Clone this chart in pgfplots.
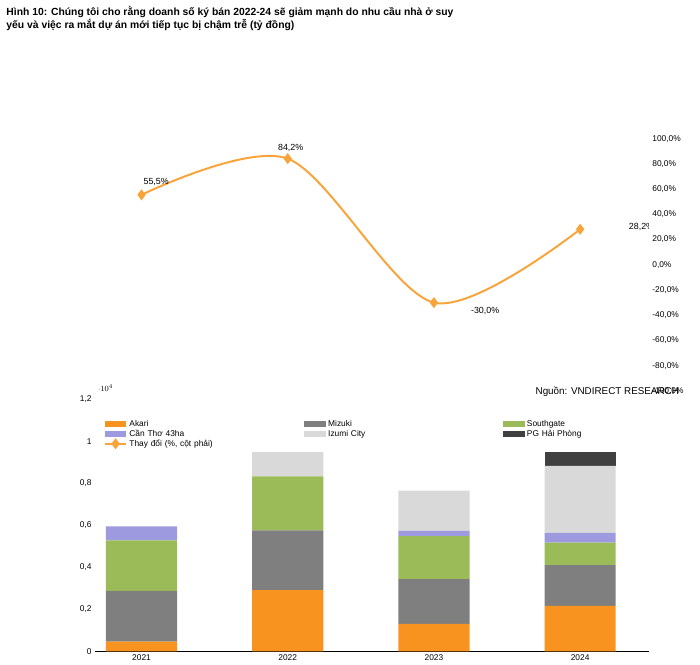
\documentclass[border=0pt]{standalone}
\usepackage{pgfplots}
\pgfplotsset{compat=1.18}
\usepackage{fontspec}
\setmainfont{Liberation Sans}
\definecolor{akari}{HTML}{F7931E}
\definecolor{mizuki}{HTML}{7F7F7F}
\definecolor{south}{HTML}{9BBB59}
\definecolor{cantho}{HTML}{9E9AE0}
\definecolor{izumi}{HTML}{D9D9D9}
\definecolor{pg}{HTML}{404040}
\definecolor{line}{HTML}{F9A43A}
\begin{document}
\begin{tikzpicture}[x=1bp,y=1bp]
\path (0,0) rectangle (700,-411);
\node[anchor=north west,font=\fontsize{10.5}{13}\selectfont\bfseries,align=left] at (3,-3) {Hình 10: Chúng tôi cho rằng doanh số ký bán 2022-24 sẽ giảm mạnh do nhu cầu nhà ở suy\\yếu và việc ra mắt dự án mới tiếp tục bị chậm trễ (tỷ đồng)};
\node[anchor=south east,font=\fontsize{10}{12}\selectfont] at (690,-404) {Nguồn: VNDIRECT RESEARCH};
\begin{axis}[at={(65,-310)},anchor=south west,width=560bp,height=255bp,scale only axis,
  ybar stacked, bar width=72bp, xmin=-0.318, xmax=3.47, ymin=0, ymax=12000,
  xtick={0,1,2,3}, xticklabels={2021,2022,2023,2024},
  ytick={0,2000,...,12000}, axis x line*=bottom, axis y line*=left,
  y axis line style={draw=none}, major tick length=0pt,
  tick label style={font=\fontsize{8.5}{10}\selectfont},
  yticklabel style={/pgf/number format/use comma,/pgf/number format/1000 sep={.},/pgf/number format/assume math mode=true},
  xticklabel style={/pgf/number format/assume math mode=true}]
\addplot[fill=akari,draw=none] coordinates {(0,470) (1,2921) (2,1314) (3,2170)};
\addplot[fill=mizuki,draw=none] coordinates {(0,2418) (1,2847) (2,2129) (3,1944)};
\addplot[fill=south,draw=none] coordinates {(0,2394) (1,2564) (2,2041) (3,1060)};
\addplot[fill=cantho,draw=none] coordinates {(0,670) (1,0) (2,260) (3,470)};
\addplot[fill=izumi,draw=none] coordinates {(0,0) (1,2586) (2,1908) (3,3193)};
\addplot[fill=pg,draw=none] coordinates {(0,0) (1,0) (2,0) (3,964)};
\node[font=\fontsize{9}{11}\selectfont] at (axis cs:0,1660) {2.418};
\node[font=\fontsize{9}{11}\selectfont] at (axis cs:0,4070) {2.394};
\node[font=\fontsize{9}{11}\selectfont] at (axis cs:1,1460) {2.921};
\node[font=\fontsize{9}{11}\selectfont] at (axis cs:1,4340) {2.847};
\node[font=\fontsize{9}{11}\selectfont] at (axis cs:1,7050) {2.564};
\node[font=\fontsize{9}{11}\selectfont] at (axis cs:2,657) {1.314};
\node[font=\fontsize{9}{11}\selectfont] at (axis cs:2,2380) {2.129};
\node[font=\fontsize{9}{11}\selectfont] at (axis cs:2,4460) {2.041};
\node[font=\fontsize{9}{11}\selectfont] at (axis cs:2,6700) {1.908};
\node[font=\fontsize{9}{11}\selectfont] at (axis cs:3,1085) {2.170};
\node[font=\fontsize{9}{11}\selectfont] at (axis cs:3,3140) {1.944};
\node[font=\fontsize{9}{11}\selectfont] at (axis cs:3,7240) {3.193};
\node[font=\fontsize{9}{11}\selectfont,text=white] at (axis cs:3,9320) {964};
\end{axis}
\begin{axis}[at={(65,-310)},anchor=south west,width=560bp,height=255bp,scale only axis,
  xmin=-0.318, xmax=3.47, ymin=-100, ymax=100, ytick={-100,-80,...,100},
  axis y line*=right, axis x line=none, y axis line style={draw=none}, major tick length=0pt,
  tick label style={font=\fontsize{8.5}{10}\selectfont},
  yticklabel={\pgfmathprintnumber[fixed,precision=1,zerofill,use comma,assume math mode=true]{\tick}\%},
  legend style={at={(0.01,-0.1)},anchor=north west,draw=none,legend columns=3,
    font=\fontsize{8.5}{10}\selectfont,nodes={text width=170bp,anchor=west},
    /tikz/every even column/.append style={column sep=5bp},row sep=-2pt},
  legend image code/.code={\fill[#1] (0,-3bp) rectangle (22bp,3bp);}]
\addlegendimage{fill=akari,draw=none}\addlegendentry{Akari}
\addlegendimage{fill=mizuki,draw=none}\addlegendentry{Mizuki}
\addlegendimage{fill=south,draw=none}\addlegendentry{Southgate}
\addlegendimage{fill=cantho,draw=none}\addlegendentry{Cần Thơ 43ha}
\addlegendimage{fill=izumi,draw=none}\addlegendentry{Izumi City}
\addlegendimage{fill=pg,draw=none}\addlegendentry{PG Hải Phòng}
\addplot[line,line width=2pt,smooth,mark=diamond*,mark size=4pt,
  legend image code/.code={\draw[line,line width=2pt] (0,0)--(22bp,0); \fill[line] (11bp,0) +(-3bp,0)--+(0,4bp)--+(3bp,0)--+(0,-4bp)--cycle;}]
  coordinates {(0,55.5) (1,84.2) (2,-30) (3,28.2)};
\addlegendentry{Thay đổi (\%, cột phải)}
\node[font=\fontsize{9}{11}\selectfont] at (axis cs:0.1,66) {55,5\%};
\node[font=\fontsize{9}{11}\selectfont] at (axis cs:1.02,93) {84,2\%};
\node[font=\fontsize{9}{11}\selectfont] at (axis cs:2.35,-37) {-30,0\%};
\node[font=\fontsize{9}{11}\selectfont] at (axis cs:3.42,30) {28,2\%};
\end{axis}
\end{tikzpicture}
\end{document}
